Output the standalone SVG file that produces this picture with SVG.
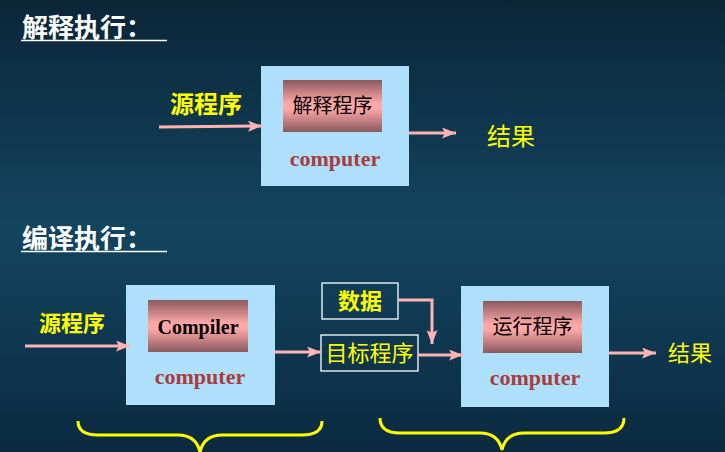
<svg xmlns="http://www.w3.org/2000/svg" width="725" height="452" viewBox="0 0 725 452">
<defs>
<linearGradient id="bg" x1="0" y1="0" x2="0" y2="1">
<stop offset="0" stop-color="#0b2538"/>
<stop offset="0.5" stop-color="#13455f"/>
<stop offset="1" stop-color="#0b2a40"/>
</linearGradient>
<linearGradient id="inner" x1="0" y1="0" x2="0" y2="1">
<stop offset="0" stop-color="#8a5a5e"/>
<stop offset="0.45" stop-color="#ffa8a8"/>
<stop offset="0.55" stop-color="#ffa8a8"/>
<stop offset="1" stop-color="#8a5a5e"/>
</linearGradient>
<marker id="ah" markerUnits="userSpaceOnUse" markerWidth="15" markerHeight="11" refX="14" refY="5.5" orient="auto">
<path d="M0,0 L14,5.5 L0,11 L3,5.5 z" fill="#ffb4b4"/>
</marker>
<style>
.title{font-family:"Noto Sans CJK SC",sans-serif;font-size:26px;font-weight:bold;fill:#ffffff}
.ul{stroke:#ffffff;stroke-width:1.5}
.lbl{font-family:"Noto Sans CJK SC",sans-serif;font-size:22px;fill:#ffff00;text-anchor:middle}
.b{font-weight:bold}
.box{fill:#aee0fc}
.inner{fill:url(#inner)}
.prog{font-family:"Noto Sans CJK SC",sans-serif;font-size:20px;fill:#000000;text-anchor:middle}
.comp{font-family:"Liberation Serif",serif;font-size:22px;font-weight:bold;fill:#a83c3c;text-anchor:middle}
.cmpl{font-family:"Liberation Serif",serif;font-size:20px;font-weight:bold;fill:#000000;text-anchor:middle}
.wb{fill:none;stroke:#ffffff;stroke-width:1.3}
.arr{fill:none;stroke:#ffb4b4;stroke-width:3;marker-end:url(#ah)}
.brace{fill:none;stroke:#ffff00;stroke-width:3}
</style>
</defs>
<rect x="0" y="0" width="725" height="452" fill="url(#bg)"/>

<g id="title1">
<text class="title" x="22" y="37">解释执行：</text>
<line class="ul" x1="21" y1="40.5" x2="167" y2="40.5"/>
</g>
<g id="src1"><text class="lbl b" x="206" y="113" style="font-size:24px">源程序</text></g>
<g id="interp">
<rect class="box" x="261" y="66" width="148" height="120"/>
<rect class="inner" x="283" y="80" width="99" height="52"/>
<text class="prog" x="332.5" y="113">解释程序</text>
<text class="comp" x="335" y="166">computer</text>
</g>
<g id="res1"><text class="lbl" x="511" y="145" style="font-size:24px">结果</text></g>

<g id="title2">
<text class="title" x="22" y="248">编译执行：</text>
<line class="ul" x1="21" y1="251.5" x2="167" y2="251.5"/>
</g>
<g id="src2"><text class="lbl b" x="72" y="331">源程序</text></g>
<g id="compiler">
<rect class="box" x="126" y="285" width="149" height="120"/>
<rect class="inner" x="148" y="300" width="100" height="52"/>
<text class="cmpl" x="198" y="334">Compiler</text>
<text class="comp" x="200" y="384">computer</text>
</g>
<g id="data">
<rect class="wb" x="322" y="283" width="76" height="36"/>
<text class="lbl b" x="360" y="309">数据</text>
</g>
<g id="target">
<rect class="wb" x="321" y="335" width="97" height="36"/>
<text class="lbl" x="369.5" y="361">目标程序</text>
</g>
<g id="runner">
<rect class="box" x="461" y="286" width="148" height="121"/>
<rect class="inner" x="483" y="301" width="99" height="52"/>
<text class="prog" x="532.5" y="334">运行程序</text>
<text class="comp" x="535" y="385">computer</text>
</g>
<g id="res2"><text class="lbl" x="690" y="361">结果</text></g>

<g id="connectors">
<line class="arr" x1="159" y1="127" x2="262" y2="126"/>
<line class="arr" x1="409" y1="133" x2="456" y2="133"/>
<line class="arr" x1="25" y1="346" x2="130" y2="346"/>
<line class="arr" x1="275" y1="352" x2="321" y2="352"/>
<polyline class="arr" points="398,300 432,300 432,344"/>
<line class="arr" x1="418" y1="355" x2="463" y2="355"/>
<line class="arr" x1="609" y1="353" x2="656" y2="353"/>
</g>

<g id="brace1">
<path class="brace" d="M78,421 Q78,435 98,435 L178,435 Q196,435 200,452 Q204,435 222,435 L302,435 Q322,435 322,421"/>
</g>
<g id="brace2">
<path class="brace" d="M380,418 Q380,433 400,433 L480,433 Q498,433 502,450 Q506,433 524,433 L604,433 Q624,433 624,418"/>
</g>
</svg>
